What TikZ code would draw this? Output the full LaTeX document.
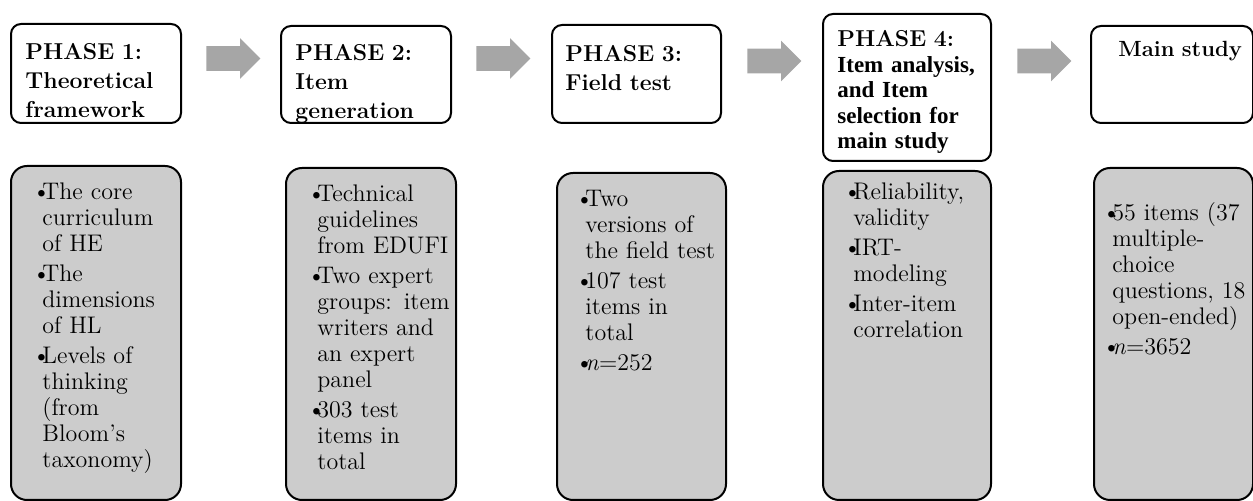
\documentclass[tikz,border=0pt]{standalone}
\usepackage{fontspec}
\newfontfamily\timesfont{Liberation Serif}
\usetikzlibrary{positioning,shapes.arrows}

\definecolor{boxgray}{HTML}{CCCCCC}
\definecolor{arrowgray}{HTML}{A6A6A6}

\newlength{\bulw}
\setlength{\bulw}{5pt}
\newcommand{\bitem}[1]{{\let\\\newline\hangindent=\bulw\hangafter=1\noindent\makebox[\bulw][l]{\textbullet}#1\par}\vspace{2pt}}

\tikzset{
  phasebox/.style={draw=black, line width=1pt, rounded corners=5pt, fill=white, anchor=north west, inner sep=0pt},
  infobox/.style={draw=black, line width=1pt, rounded corners=8pt, fill=boxgray, anchor=north west, inner sep=0pt},
  phasetext/.style={anchor=base west, inner sep=0pt, align=left, text width=80pt, font=\fontsize{11.5}{14.5}\selectfont\bfseries},
  infotext/.style={anchor=base west, inner sep=0pt, align=left, text width=80pt, font=\fontsize{12}{13}\selectfont},
  blockarrow/.style={single arrow, fill=arrowgray, draw=none, inner xsep=0pt, inner ysep=6pt, minimum height=27pt, minimum width=20pt, single arrow head extend=4pt, anchor=west}
}

\begin{document}
\begin{tikzpicture}[x=0.5pt, y=-0.5pt]

\useasboundingbox (0,0) rectangle (1253,501);
\clip (0,0) rectangle (1253,501);

% phase boxes
\node [phasebox, minimum width=85pt, minimum height=49.5pt] (ph1) at (10,23) {};
\node [phasebox, minimum width=85pt, minimum height=48.5pt] (ph2) at (280,25) {};
\node [phasebox, minimum width=84.5pt, minimum height=49pt] (ph3) at (551,24) {};
\node [phasebox, minimum width=84pt, minimum height=73.5pt] (ph4) at (822,13) {};
\node [phasebox, minimum width=81pt, minimum height=48.5pt] (ph5) at (1090,25) {};

\node [phasetext] (ph1txt) at ([xshift=7.5pt, yshift=-18.5pt]ph1.north west) {PHASE 1:\\Theoretical\\framework};
\node [phasetext] (ph2txt) at ([xshift=7.5pt, yshift=-18pt]ph2.north west) {PHASE 2:\\Item\\generation};
\node [phasetext] (ph3txt) at ([xshift=7pt, yshift=-19pt]ph3.north west) {PHASE 3:\\Field test};
\node [phasetext, font=\fontsize{11.5}{12.75}\selectfont\bfseries] (ph4txt) at ([xshift=7.5pt, yshift=-17pt]ph4.north west)
  {PHASE 4:\\{\timesfont Item analysis,\\and Item\\selection for\\main study}};
\node [phasetext, font=\fontsize{11}{14.5}\selectfont\bfseries] (ph5txt) at ([xshift=14pt, yshift=-16pt]ph5.north west) {Main study};

% arrows between phases
\node [blockarrow] (a12) at ([xshift=12pt, yshift=7.5pt]ph1.east) {};
\node [blockarrow] (a23) at ([xshift=12pt, yshift=8pt]ph2.east) {};
\node [blockarrow] (a34) at ([xshift=12.5pt, yshift=6.5pt]ph3.east) {};
\node [blockarrow] (a45) at ([xshift=12.5pt, yshift=13.25pt]ph4.east) {};

% detail boxes
\node [infobox, minimum width=85pt, minimum height=167pt] (inf1) at (10,165) {};
\node [infobox, minimum width=85pt, minimum height=166pt] (inf2) at (285,167) {};
\node [infobox, minimum width=84.5pt, minimum height=163.5pt] (inf3) at (556,172) {};
\node [infobox, minimum width=84pt, minimum height=164.5pt] (inf4) at (822,170) {};
\node [infobox, minimum width=79.5pt, minimum height=166pt] (inf5) at (1093,167) {};

\node [infotext] (inf1txt) at ([xshift=11pt, yshift=-17.5pt]inf1.north west)
  {\bitem{The core\\curriculum\\of HE}\bitem{The\\dimensions\\of HL}\bitem{Levels of\\thinking\\(from\\Bloom’s\\taxonomy)}};
\node [infotext] (inf2txt) at ([xshift=11pt, yshift=-17.5pt]inf2.north west)
  {\bitem{Technical\\guidelines\\from EDUFI}\bitem{Two expert\\groups: item\\writers and\\an expert\\panel}\bitem{303 test\\items in\\total}};
\node [infotext] (inf3txt) at ([xshift=9.5pt, yshift=-17.5pt]inf3.north west)
  {\bitem{Two\\versions of\\the field test}\bitem{107 test\\items in\\total}\bitem{\textit{n}=252}};
\node [infotext] (inf4txt) at ([xshift=10.5pt, yshift=-15pt]inf4.north west)
  {\bitem{Reliability,\\validity}\bitem{IRT-\\modeling}\bitem{Inter-item\\correlation}};
\node [infotext] (inf5txt) at ([xshift=4.5pt, yshift=-27pt]inf5.north west)
  {\bitem{55 items (37\\multiple-\\choice\\questions, 18\\open-ended)}\bitem{\textit{n}=3652}};

\end{tikzpicture}
\end{document}
